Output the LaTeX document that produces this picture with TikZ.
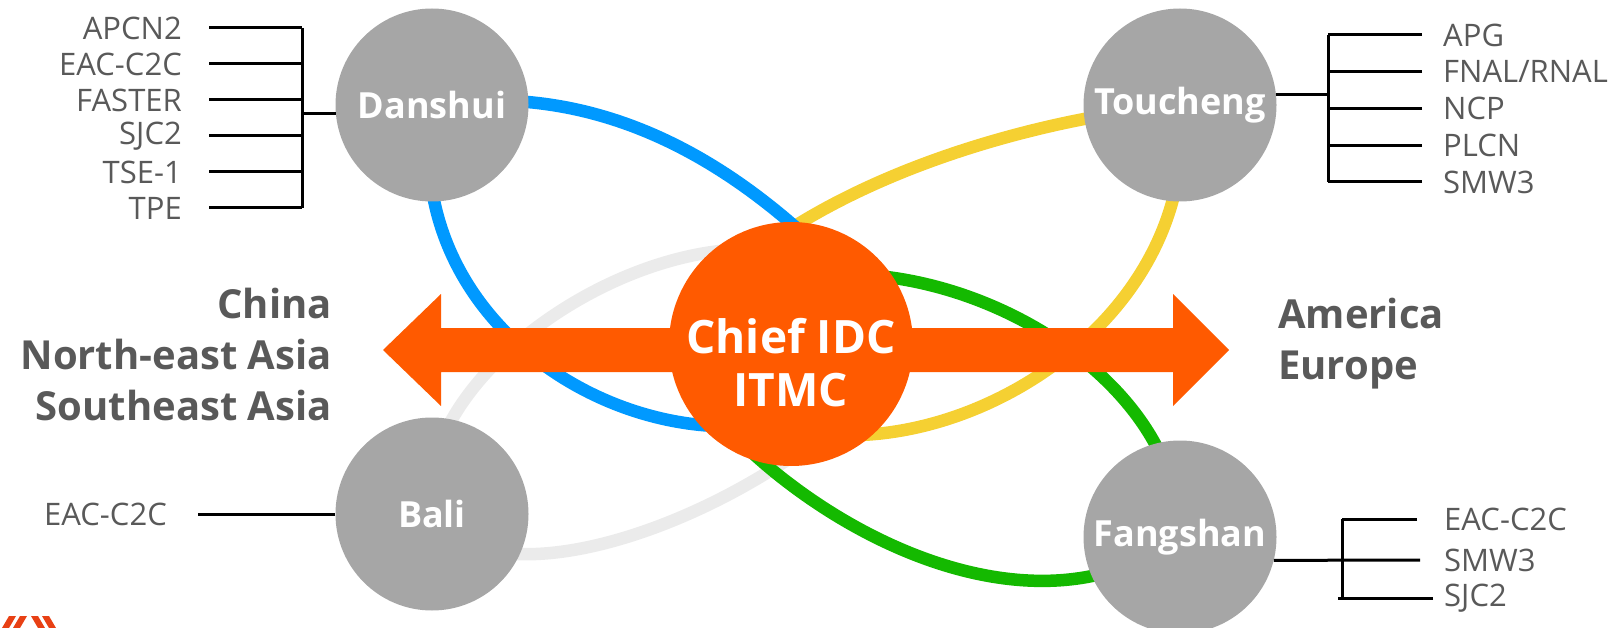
\documentclass[tikz,border=0pt]{standalone}
\usepackage{fontspec}
\setmainfont{Open Sans}
\definecolor{ringblue}{RGB}{0,153,255}
\definecolor{ringyellow}{RGB}{245,208,50}
\definecolor{ringgreen}{RGB}{20,185,0}
\definecolor{ringgray}{RGB}{235,235,235}
\definecolor{sitegray}{RGB}{166,166,166}
\definecolor{huborange}{RGB}{255,90,0}
\definecolor{labelgray}{RGB}{89,89,89}
\definecolor{logored}{RGB}{232,64,20}
\pgfdeclarelayer{back}
\pgfdeclarelayer{mid}
\pgfsetlayers{back,mid,main}

\begin{document}
\begin{tikzpicture}[x=1pt,y=-1pt,
  site/.style={circle,fill=sitegray,minimum size=193pt,inner sep=0pt,text=white,font=\bfseries\fontsize{36}{40}\selectfont},
  hub/.style={circle,fill=huborange,minimum size=244pt,inner sep=0pt},
  hubtext/.style={text=white,align=center,inner sep=0pt,font=\bfseries\fontsize{46}{53}\selectfont},
  cable/.style={text=labelgray,inner sep=0pt,font=\fontsize{31}{36}\selectfont},
  region/.style={text=labelgray,inner sep=0pt,font=\bfseries\fontsize{40}{51}\selectfont},
  stub/.style={line width=3pt},
  ring/.style={line width=12.5pt}]
\useasboundingbox (0,0) rectangle (1619,628);

\node[site] (dan) at (432,105) {Danshui};
\node[site] (tou) at (1180,105) {Toucheng};
\node[site] (bali) at (432,514) {Bali};
\node[site] (fang) at (1180,537) {Fangshan};
\node[hub] (chief) at (791,344) {};
\node[hubtext] (chieftxt) at ([yshift=-19pt]chief.center) {Chief IDC\\ITMC};

\begin{pgfonlayer}{back}
\draw[ring,ringgray] (bali.center) .. controls (400,340) and (800,120) .. (chief.east)
  .. controls (800,500) and (500,620) .. (bali.center);
\draw[ring,ringyellow] (tou.center) .. controls (1000,122) and (760,200) .. (chief.west)
  .. controls (800,550) and (1210,380) .. (tou.center);
\draw[ring,ringgreen] (chief.west) .. controls (820,180) and (1180,330) .. (fang.center)
  .. controls (1000,670) and (720,470) .. (chief.west);
\draw[ring,ringblue] (dan.center) .. controls (700,65) and (860,300) .. (chief.east)
  .. controls (760,530) and (390,380) .. (dan.center);
\end{pgfonlayer}

\begin{pgfonlayer}{mid}
\fill[huborange] (383,350) -- (441,294) -- (441,328) -- (1173,328) -- (1173,294) -- (1229,350)
  -- (1173,406) -- (1173,372) -- (441,372) -- (441,406) -- cycle;
\end{pgfonlayer}

\node[region,align=right,anchor=east] (asia) at (332,354) {China\\North-east Asia\\Southeast Asia};
\node[region,align=left,anchor=west] (amer) at (1278,344) {America\\Europe};

\foreach \txt [count=\i] in {APCN2,EAC-C2C,FASTER,SJC2,TSE-1,TPE}
  \node[cable,anchor=east] (d\i) at (182,{28+36*(\i-1)}) {\txt};
\foreach \i in {1,...,6}
  \draw[stub] ([xshift=27pt]d\i.east) -- ++(93,0);
\draw[stub] ([xshift=120pt]d1.east) -- ([xshift=120pt]d6.east);
\draw[stub] (dan.185) -- ++(-35,0);

\foreach \txt [count=\i] in {APG,{FNAL/RNAL},NCP,PLCN,SMW3}
  \node[cable,anchor=west] (t\i) at (1443,{35+36.75*(\i-1)}) {\txt};
\foreach \i in {1,...,5}
  \draw[stub] ([xshift=-21pt]t\i.west) -- ++(-94,0);
\draw[stub] ([xshift=-115pt]t1.west) -- ([xshift=-115pt]t5.west);
\draw[stub] (tou.6) -- ++(52.5,0);

\foreach \txt/\y [count=\i] in {EAC-C2C/519,SMW3/560,SJC2/598}
  \node[cable,anchor=west] (f\i) at (1444,\y) {\txt};
\draw[stub] ([xshift=-27pt]f1.west) -- ++(-75,0);
\draw[stub] (fang.-14) -- ([xshift=-24pt]f2.west);
\draw[stub] ([xshift=-11pt]f3.west) -- ++(-95,0);
\draw[stub] ([xshift=-102pt]f1.west) -- ([xshift=-102pt]f3.west);

\node[cable,anchor=east] (b1) at (167,514) {EAC-C2C};
\draw[stub] (bali.west) -- ([xshift=31pt]b1.east);

% logo corner
\fill[logored] (2,628) -- (9,628) -- (16,616) -- (9,616) -- cycle;
\fill[logored] (13,628) -- (20,628) -- (27,616) -- (20,616) -- cycle;
\fill[logored] (31,616) -- (38,616) -- (45,628) -- (38,628) -- cycle;
\fill[logored] (42,616) -- (49,616) -- (56,628) -- (49,628) -- cycle;
\end{tikzpicture}
\end{document}
